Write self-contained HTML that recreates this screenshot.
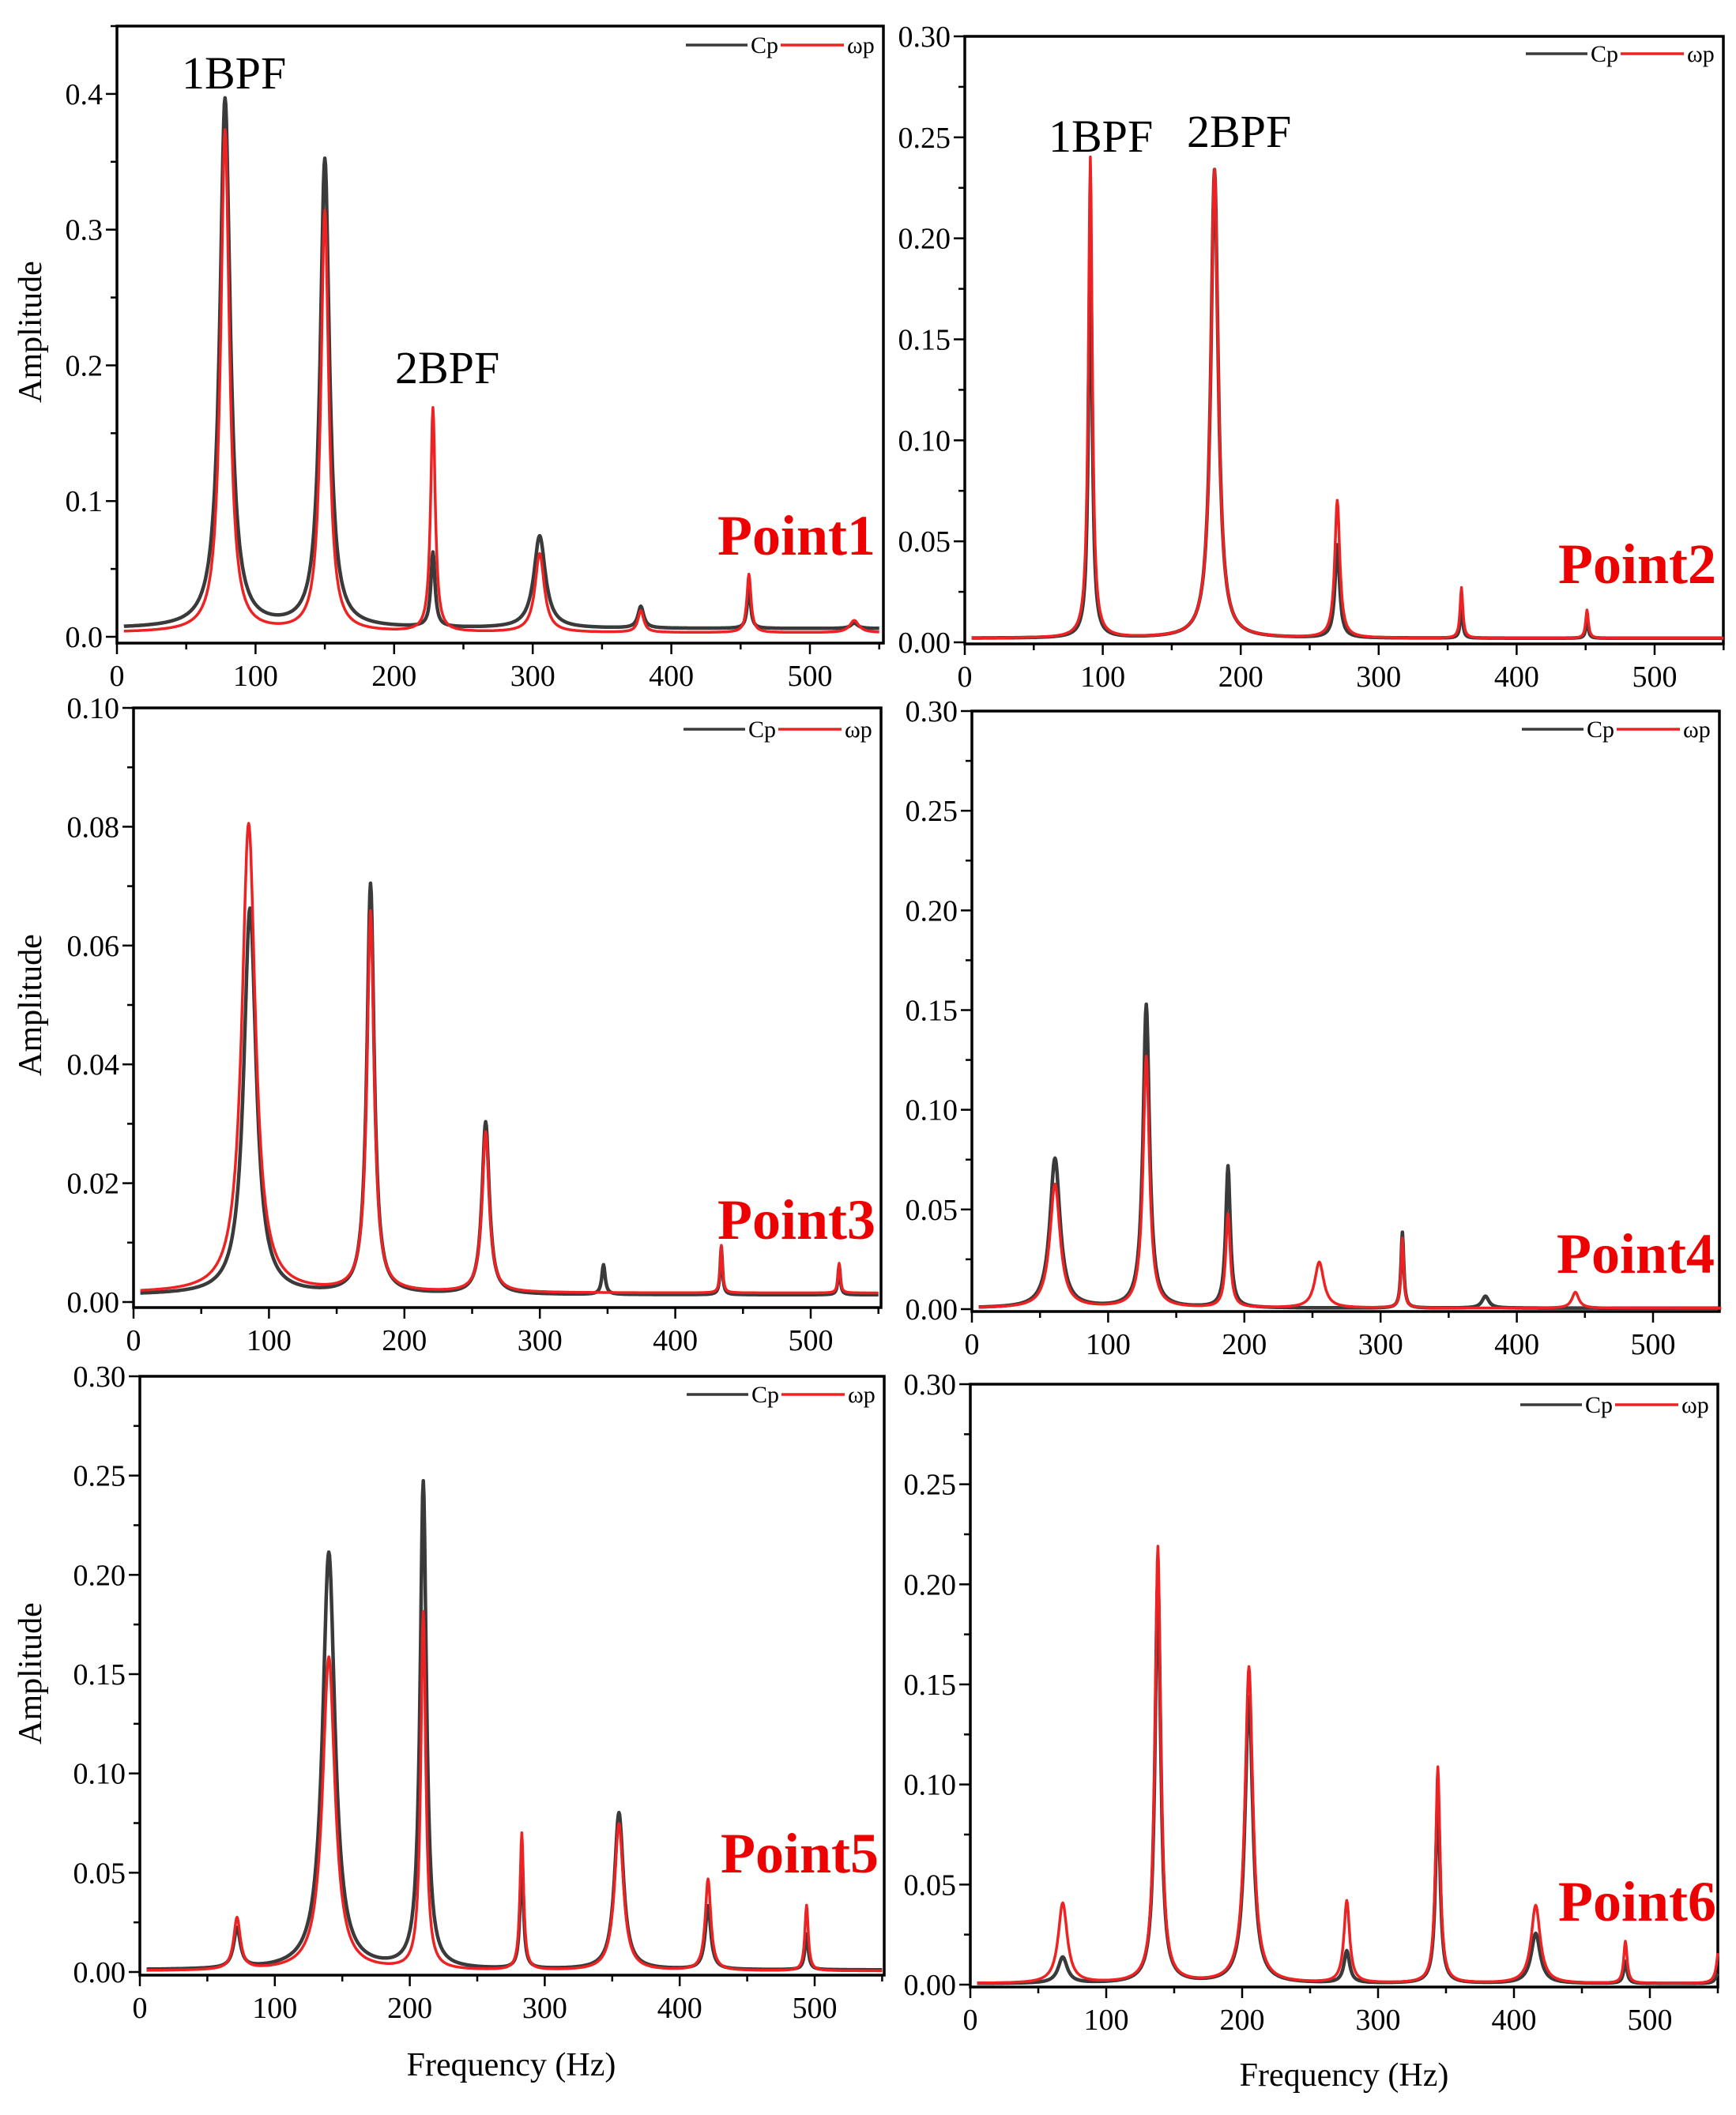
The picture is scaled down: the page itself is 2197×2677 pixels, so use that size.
<!DOCTYPE html>
<html><head><meta charset="utf-8">
<style>
html,body{margin:0;padding:0;background:#fff;}
svg{display:block;}
text{font-family:"Liberation Serif",serif;}
</style></head>
<body>
<svg id="s" xmlns="http://www.w3.org/2000/svg" width="2197" height="2677" viewBox="0 0 2197 2677"></svg>
<script>
const NS="http://www.w3.org/2000/svg";
const S=document.getElementById('s');
function el(t,a,txt){const e=document.createElementNS(NS,t);for(const k in a)e.setAttribute(k,a[k]);if(txt!==undefined)e.textContent=txt;S.appendChild(e);return e;}
const panels=[
 {L:148,R:1118,T:33,B:814,y0:806,ymax:0.45,x0:148,p100:175.4,yt:[0,0.1,0.2,0.3,0.4],fmt:1,minor:0.05,
  pt:"Point1",ptx:1108,pty:702,
  cp:{b:0.006,pk:[[78,0.39,4.5],[150,0.345,4],[228,0.055,1.8],[305,0.068,5],[378,0.016,2.5],[456,0.03,1.5],[532,0.004,3]]},
  wp:{b:0.003,pk:[[78,0.37,3.8],[150,0.31,3.4],[228,0.165,2],[305,0.058,4],[378,0.016,2.5],[456,0.043,1.8],[532,0.009,4]]}},
 {L:1221,R:2181,T:46,B:815,y0:813,ymax:0.30,x0:1221,p100:174.6,yt:[0,0.05,0.1,0.15,0.2,0.25,0.3],fmt:2,minor:0.025,
  pt:"Point2",ptx:2172,pty:738,
  cp:{b:0.002,pk:[[91,0.2,1.6],[181,0.232,3.2],[270,0.046,2],[360,0.017,1],[451,0.01,1]]},
  wp:{b:0.002,pk:[[91,0.238,1.7],[181,0.232,3.2],[270,0.068,2.2],[360,0.025,1.2],[451,0.014,1.2]]}},
 {L:169,R:1115,T:896,B:1655,y0:1648,ymax:0.10,x0:169,p100:171.4,yt:[0,0.02,0.04,0.06,0.08,0.1],fmt:2,minor:0.01,
  pt:"Point3",ptx:1108,pty:1568,
  cp:{b:0.0012,pk:[[86,0.065,5.5],[175,0.069,3.2],[260,0.029,3.2],[347,0.005,1.5],[434,0.008,1],[521,0.005,1]]},
  wp:{b:0.0015,pk:[[85,0.079,6],[175,0.064,3.2],[260,0.027,3.2],[434,0.008,1],[521,0.005,1]]}},
 {L:1230,R:2176,T:900,B:1660,y0:1657,ymax:0.30,x0:1230,p100:172.4,yt:[0,0.05,0.1,0.15,0.2,0.25,0.3],fmt:2,minor:0.025,
  pt:"Point4",ptx:2170,pty:1611,
  cp:{b:0.0005,pk:[[61,0.075,4.5],[128,0.152,2.8],[188,0.071,2],[316,0.038,1.2],[377,0.006,3]]},
  wp:{b:0.0005,pk:[[61,0.062,4.5],[128,0.126,2.8],[188,0.047,2],[255,0.023,4],[316,0.035,1.2],[443,0.008,3]]}},
 {L:177,R:1119,T:1742,B:2500,y0:2496,ymax:0.30,x0:177,p100:170.8,yt:[0,0.05,0.1,0.15,0.2,0.25,0.3],fmt:2,minor:0.025,
  pt:"Point5",ptx:1112,pty:2370,
  cp:{b:0.001,pk:[[72,0.02,3],[140,0.21,5.5],[210,0.245,2.8],[283,0.057,1.5],[355,0.079,4],[421,0.032,2.5],[494,0.018,1.5]]},
  wp:{b:0.0005,pk:[[72,0.026,3],[140,0.158,5.5],[210,0.18,2.2],[283,0.069,1.6],[355,0.074,4],[421,0.046,2.5],[494,0.033,1.5]]}},
 {L:1228,R:2174,T:1752,B:2515,y0:2512,ymax:0.30,x0:1228,p100:172,yt:[0,0.05,0.1,0.15,0.2,0.25,0.3],fmt:2,minor:0.025,
  pt:"Point6",ptx:2172,pty:2431,
  cp:{b:0.0005,pk:[[68,0.013,4],[138,0.203,2.5],[205,0.143,3.5],[277,0.016,2.5],[344,0.094,2],[416,0.025,4],[482,0.011,1.5],[550,0.005,2]]},
  wp:{b:0.0005,pk:[[68,0.04,4],[138,0.218,2.5],[205,0.158,3.5],[277,0.041,2.5],[344,0.108,2],[416,0.039,4],[482,0.021,1.5],[551,0.019,2]]}}
];
panels.forEach((p,i)=>{
 const sy=(p.y0-p.T)/p.ymax;
 const X=f=>p.x0+f*p.p100/100, Y=v=>p.y0-v*sy;
 el('rect',{x:p.L,y:p.T,width:p.R-p.L,height:p.B-p.T,fill:'none',stroke:'#000','stroke-width':3.5});
 for(let v=0;v<=p.ymax+1e-9;v+=p.minor){
   const y=Y(v);const maj=Math.abs(Math.round(v/(p.minor*2))*(p.minor*2)-v)<1e-9;
   el('line',{x1:p.L-(maj?14:8),x2:p.L,y1:y,y2:y,stroke:'#000','stroke-width':2.5});
 }
 p.yt.forEach(v=>{el('text',{x:p.L-18,y:Y(v)+13,'font-size':38,'text-anchor':'end'},v.toFixed(p.fmt));});
 for(let f=0;f<=550;f+=50){const x=X(f);if(x>p.R+2)continue;const maj=f%100==0;
   el('line',{x1:x,x2:x,y1:p.B,y2:p.B+(maj?14:8),stroke:'#000','stroke-width':2.5});
   if(maj)el('text',{x:x,y:p.B+54,'font-size':38,'text-anchor':'middle'},String(f));}
 function path(d,col,w){let s='';for(let f=5;f<=550;f+=0.5){let v=d.b;d.pk.forEach(k=>{const t=(f-k[0])/k[2];v+=k[1]/(1+t*t);});
   s+=(s?'L':'M')+X(f).toFixed(1)+','+Y(v).toFixed(1);}
   el('path',{d:s,fill:'none',stroke:col,'stroke-width':w,'stroke-linejoin':'round'});}
 path(p.cp,'#3a3a3a',4.5);path(p.wp,'#ee2222',3.5);
 const ly=i<2?(i==0?57:68):(i<4?923:(i==4?1765:1778));
 el('line',{x1:p.R-250,x2:p.R-172,y1:ly,y2:ly,stroke:'#3a3a3a','stroke-width':3.5});
 el('text',{x:p.R-168,y:ly+10,'font-size':30},'Cp');
 el('line',{x1:p.R-130,x2:p.R-50,y1:ly,y2:ly,stroke:'#ee2222','stroke-width':3.5});
 el('text',{x:p.R-46,y:ly+10,'font-size':30},'ωp');
 el('text',{x:p.ptx,y:p.pty,'font-size':72,'font-weight':'bold',fill:'#ee0000','text-anchor':'end'},p.pt);
});
[["1BPF",230,112],["2BPF",500,485],["1BPF",1327,192],["2BPF",1502,186]].forEach(l=>el('text',{x:l[1],y:l[2],'font-size':58},l[0]));
[[52,420],[52,1272],[52,2118]].forEach(a=>el('text',{x:a[0],y:a[1],'font-size':42,'text-anchor':'middle',transform:`rotate(-90 ${a[0]} ${a[1]})`},'Amplitude'));
el('text',{x:647,y:2627,'font-size':42,'text-anchor':'middle'},'Frequency (Hz)');
el('text',{x:1701,y:2640,'font-size':42,'text-anchor':'middle'},'Frequency (Hz)');
</script>
</body></html>
